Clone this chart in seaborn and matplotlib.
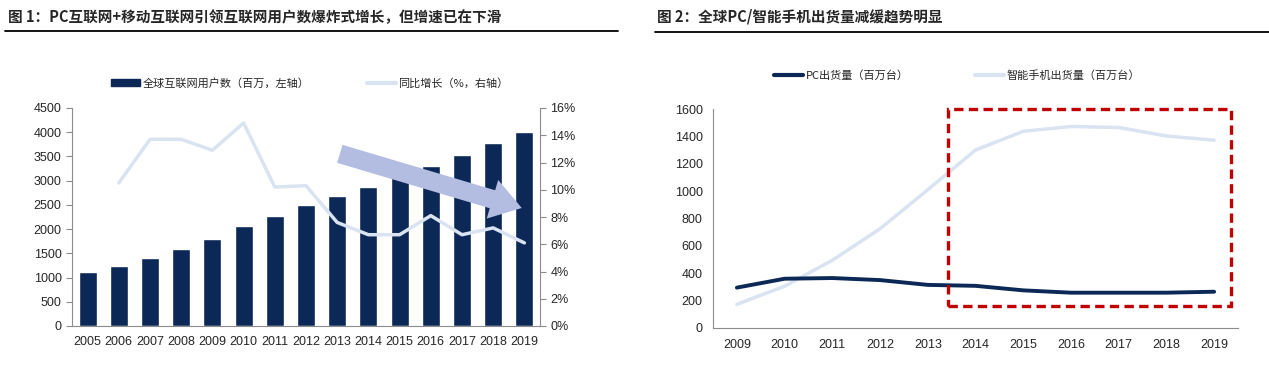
import numpy as np
import pandas as pd
import matplotlib
matplotlib.use('Agg')
import matplotlib.pyplot as plt
import seaborn as sns
from matplotlib.patches import Rectangle, Patch
from matplotlib.lines import Line2D
from matplotlib.ticker import FixedLocator, FuncFormatter

sns.set_style('white')
plt.rcParams['font.family'] = ['Liberation Sans', 'Noto Sans CJK SC', 'DejaVu Sans']

# data - chart 1
years_1 = ['2005', '2006', '2007', '2008', '2009', '2010', '2011', '2012',
           '2013', '2014', '2015', '2016', '2017', '2018', '2019']
users = [1120, 1240, 1400, 1590, 1800, 2060, 2270, 2500, 2690, 2870, 3080,
         3300, 3520, 3770, 4000]
growth = [np.nan, 10.5, 13.7, 13.7, 12.9, 14.9, 10.2, 10.3, 7.6, 6.7, 6.7,
          8.1, 6.7, 7.2, 6.1]

# data - chart 2
years_2 = ['2009', '2010', '2011', '2012', '2013', '2014', '2015', '2016',
           '2017', '2018', '2019']
pc_ship = [295, 360, 365, 350, 315, 308, 275, 258, 258, 258, 265]
phone_ship = [173, 305, 495, 725, 1010, 1300, 1437, 1472, 1465, 1403, 1372]

navy = '#0c2856'
light = '#d9e3f1'
spine_c = '#8c8c8c'
cjk = ['Noto Sans CJK SC', 'DejaVu Sans']

fig = plt.figure(figsize=(12.69, 3.65), dpi=100)

# titles and rules
fig.text(8 / 1269, 1 - 17 / 365, '图 1：PC互联网+移动互联网引领互联网用户数爆炸式增长，但增速已在下滑',
         fontsize=10.5, fontweight='bold', va='center', ha='left', family=cjk)
fig.text(657 / 1269, 1 - 17 / 365, '图 2：全球PC/智能手机出货量减缓趋势明显',
         fontsize=10.5, fontweight='bold', va='center', ha='left', family=cjk)
fig.add_artist(Line2D([5 / 1269, 618 / 1269], [1 - 31 / 365] * 2, color='black', lw=1.3))
fig.add_artist(Line2D([655 / 1269, 1.0], [1 - 32 / 365] * 2, color='black', lw=1.3))

# ---------- chart 1 ----------
df1 = pd.DataFrame({'year': years_1, 'users': users, 'growth': growth})
ax1 = fig.add_axes([72 / 1269, 39 / 365, 468 / 1269, 218 / 365])
sns.barplot(data=df1, x='year', y='users', color=navy, width=0.58,
            saturation=1, ax=ax1)
ax1.set_xlim(-0.5, len(years_1) - 0.5)
ax1.set_ylim(0, 4500)
ax1.set_yticks(np.arange(0, 4501, 500))
ax1.set_xlabel('')
ax1.set_ylabel('')
ax1.xaxis.set_minor_locator(FixedLocator(np.arange(-0.5, len(years_1), 1)))
ax1.tick_params(axis='x', which='major', length=0, labelsize=9, pad=7)
ax1.tick_params(axis='x', which='minor', length=4, color=spine_c, direction='in')
ax1.tick_params(axis='y', length=4, color=spine_c, direction='out', labelsize=9)

ax1b = ax1.twinx()
sns.lineplot(x=np.arange(len(years_1)), y=df1['growth'], color=light, lw=2.5, ax=ax1b)
ax1b.set_ylim(0, 16)
ax1b.set_yticks(np.arange(0, 17, 2))
ax1b.yaxis.set_major_formatter(FuncFormatter(lambda v, p: f'{v:.0f}%'))
ax1b.set_ylabel('')
ax1b.tick_params(axis='y', length=4, color=spine_c, labelsize=9)

for a in (ax1, ax1b):
    a.spines['top'].set_visible(False)
    for s in ['left', 'right', 'bottom']:
        a.spines[s].set_color(spine_c)
ax1.spines['right'].set_visible(False)
ax1b.spines['left'].set_visible(False)
ax1b.spines['bottom'].set_visible(False)

# trend arrow
ax1.annotate('', xy=(14.0, 2420), xytext=(8.0, 3570), zorder=5,
             arrowprops=dict(arrowstyle='simple,head_width=2.9,head_length=2.2,tail_width=1.35',
                             color='#b3bde2', mutation_scale=10, lw=0))

handles1 = [Patch(color=navy), Line2D([], [], color=light, lw=3)]
fig.legend(handles1, ['全球互联网用户数（百万，左轴）', '同比增长（%，右轴）'],
           loc='center', bbox_to_anchor=(310 / 1269, 1 - 83 / 365), ncol=2,
           frameon=False, prop={'family': cjk, 'size': 8}, handlelength=2.6,
           handletextpad=0.2, columnspacing=5.2)

# ---------- chart 2 ----------
df2 = pd.DataFrame({'x': np.arange(len(years_2)), 'pc': pc_ship, 'phone': phone_ship})
ax2 = fig.add_axes([713 / 1269, 37 / 365, 525 / 1269, 219 / 365])
sns.lineplot(data=df2, x='x', y='phone', color=light, lw=2.5, ax=ax2)
sns.lineplot(data=df2, x='x', y='pc', color=navy, lw=2.8, ax=ax2)
ax2.set_xlim(-0.5, len(years_2) - 0.5)
ax2.set_ylim(0, 1600)
ax2.set_yticks(np.arange(0, 1601, 200))
ax2.set_xticks(np.arange(len(years_2)))
ax2.set_xticklabels(years_2)
ax2.set_xlabel('')
ax2.set_ylabel('')
ax2.xaxis.set_minor_locator(FixedLocator(np.arange(-0.5, len(years_2), 1)))
ax2.tick_params(axis='x', which='major', length=0, labelsize=9, pad=8)
ax2.tick_params(axis='x', which='minor', length=4, color=spine_c, direction='in')
ax2.tick_params(axis='y', length=4, color=spine_c, direction='out', labelsize=9)
for s in ['top', 'right']:
    ax2.spines[s].set_visible(False)
for s in ['left', 'bottom']:
    ax2.spines[s].set_color(spine_c)

box = Rectangle((4.42, 160), 10.36 - 4.42, 1600 - 160, fill=False,
                edgecolor='#c00000', lw=2.4, linestyle=(0, (2.8, 1.6)),
                clip_on=False, zorder=6)
ax2.add_patch(box)

handles2 = [Line2D([], [], color=navy, lw=3), Line2D([], [], color=light, lw=3)]
fig.legend(handles2, ['PC出货量（百万台）', '智能手机出货量（百万台）'],
           loc='center', bbox_to_anchor=(957 / 1269, 1 - 76 / 365), ncol=2,
           frameon=False, prop={'family': cjk, 'size': 8}, handlelength=2.6,
           handletextpad=0.2, columnspacing=6)

fig.savefig('out.png', dpi=100)
